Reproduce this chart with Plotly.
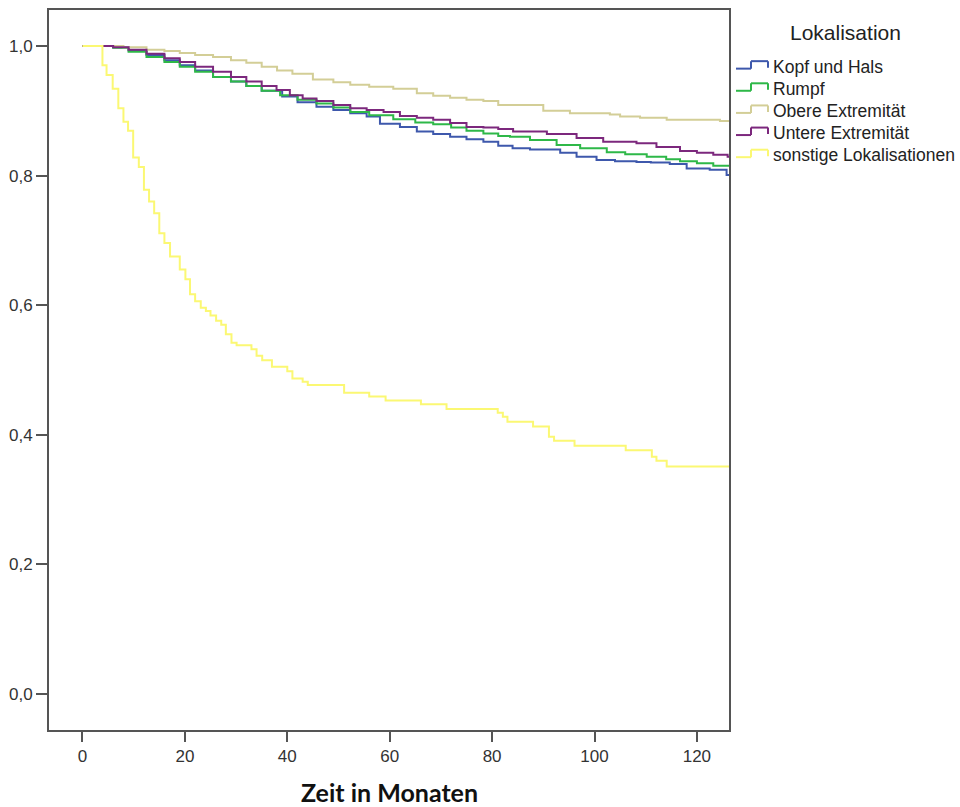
import plotly.graph_objects as go

# Kaplan-Meier survival by tumour localisation (months, cumulative survival)
series_names = ["Kopf und Hals", "Rumpf", "Obere Extremität",
                "Untere Extremität", "sonstige Lokalisationen"]
series_colors = ["#3E58AC", "#2EB848", "#D3CE97", "#7C287D", "#FBF873"]

kopf_t = [0, 4, 6, 9, 12.5, 16, 19, 22, 25.5, 29, 32, 35, 39, 42, 45.7, 49, 52.3,
          55.5, 58.1, 62, 65.3, 68.5, 71.8, 75, 78.3, 81.2, 84, 87.4, 93.3, 96.5,
          100.4, 104, 108.2, 111, 114.7, 118, 122.5, 125.8, 130]
kopf_s = [1.0, 1.0, 0.998, 0.993, 0.986, 0.978, 0.970, 0.962, 0.952, 0.945, 0.938,
          0.931, 0.922, 0.913, 0.906, 0.901, 0.896, 0.891, 0.880, 0.875, 0.868,
          0.864, 0.860, 0.856, 0.852, 0.846, 0.842, 0.840, 0.835, 0.829, 0.824,
          0.822, 0.821, 0.820, 0.818, 0.811, 0.809, 0.801, 0.801]

rumpf_t = [0, 4, 6, 9, 12.5, 16, 19, 22, 25.5, 29, 32, 35, 38.6, 42, 45.7, 49, 52.3,
           56, 60.7, 65, 68.5, 72, 75, 78.3, 81.2, 83.5, 87.4, 92.6, 97.2, 102.4,
           106, 110.2, 114, 116.7, 120, 123.2, 126.5, 130]
rumpf_s = [1.0, 1.0, 0.997, 0.991, 0.983, 0.975, 0.968, 0.960, 0.952, 0.945, 0.938,
           0.931, 0.924, 0.917, 0.911, 0.905, 0.898, 0.893, 0.887, 0.882, 0.879,
           0.874, 0.869, 0.865, 0.861, 0.860, 0.855, 0.847, 0.842, 0.836, 0.833,
           0.829, 0.825, 0.822, 0.819, 0.815, 0.813, 0.813]

obere_t = [0, 5, 8, 12.5, 16, 19, 22, 25.5, 29, 32, 35, 38, 41, 45, 49, 52.3, 56,
           60.7, 65.3, 68.5, 71.8, 75, 78.3, 81.2, 90, 95.2, 103, 105, 108.9, 114.1,
           124.5, 130]
obere_s = [1.0, 1.0, 0.998, 0.994, 0.992, 0.989, 0.986, 0.983, 0.978, 0.974, 0.968,
           0.962, 0.957, 0.948, 0.944, 0.940, 0.937, 0.934, 0.927, 0.923, 0.920,
           0.917, 0.915, 0.909, 0.900, 0.896, 0.894, 0.891, 0.889, 0.886, 0.884,
           0.884]

untere_t = [0, 4, 6, 9, 12.5, 16, 19, 22, 25.5, 29, 32, 35, 37.9, 40.5, 43, 45.7, 49,
            52.3, 55.5, 58.8, 62, 65.3, 68.5, 71.8, 75, 78.3, 81.2, 84.1, 90.7, 96.5,
            101.7, 108.2, 112.1, 116.7, 120, 123.2, 126, 130]
untere_s = [1.0, 1.0, 0.998, 0.994, 0.988, 0.981, 0.975, 0.968, 0.960, 0.952, 0.945,
            0.938, 0.932, 0.924, 0.919, 0.915, 0.909, 0.904, 0.901, 0.898, 0.892,
            0.889, 0.886, 0.881, 0.875, 0.874, 0.872, 0.868, 0.864, 0.858, 0.852,
            0.850, 0.844, 0.838, 0.835, 0.832, 0.829, 0.829]

sonst_t = [0, 3.9, 4.7, 5.9, 7.0, 8.0, 8.9, 9.9, 11.0, 12.0, 13.0, 14.0, 15.0, 16.0,
           17.1, 19.0, 20.1, 21.0, 22.0, 23.1, 24.1, 25.0, 26.1, 27.1, 28.0, 29.1,
           30.1, 33.0, 34.0, 35.1, 37.0, 40.0, 41.0, 43.0, 44.0, 51.1, 56.0, 59.2,
           66.1, 71.1, 81.1, 82.1, 83.0, 88.0, 91.1, 92.1, 96.1, 106.1, 111.2, 112.1,
           114.1, 130]
sonst_s = [1.0, 0.970, 0.955, 0.934, 0.904, 0.883, 0.869, 0.828, 0.813, 0.778, 0.760,
           0.742, 0.711, 0.696, 0.675, 0.655, 0.640, 0.617, 0.606, 0.596, 0.591,
           0.584, 0.576, 0.570, 0.555, 0.542, 0.538, 0.532, 0.522, 0.515, 0.505,
           0.498, 0.487, 0.482, 0.477, 0.465, 0.459, 0.453, 0.447, 0.440, 0.434,
           0.428, 0.420, 0.413, 0.397, 0.391, 0.383, 0.376, 0.366, 0.360, 0.351,
           0.351]

x_ticks = [0, 20, 40, 60, 80, 100, 120]
y_ticks = [0.0, 0.2, 0.4, 0.6, 0.8, 1.0]
y_tick_labels = ["0,0", "0,2", "0,4", "0,6", "0,8", "1,0"]

times = [kopf_t, rumpf_t, obere_t, untere_t, sonst_t]
survival = [kopf_s, rumpf_s, obere_s, untere_s, sonst_s]

W, H = 960, 807
ML, MR, MT, MB = 49, 231, 8, 77
PW, PH = W - ML - MR, H - MT - MB


def px(x):
    return (x - ML) / PW


def py(y):
    return (MT + PH - y) / PH


fig = go.Figure()
for name, color, t, s in zip(series_names, series_colors, times, survival):
    fig.add_trace(go.Scatter(
        x=t, y=s, mode="lines", name=name,
        line=dict(color=color, width=2, shape="hv"),
        showlegend=False, hoverinfo="skip",
    ))

axis_color = "#555555"
tick_font = dict(family="Liberation Sans, Arial, sans-serif", size=17, color="#333333")

fig.update_xaxes(
    range=[-6.54, 126.27], tickvals=x_ticks, ticktext=[str(v) for v in x_ticks],
    showgrid=False, zeroline=False, showline=True, linecolor=axis_color,
    linewidth=2, mirror=True, ticks="outside", ticklen=10, tickwidth=2,
    tickcolor=axis_color, tickfont=tick_font,
)
fig.update_yaxes(
    range=[-0.0554, 1.0554], tickvals=y_ticks, ticktext=y_tick_labels,
    showgrid=False, zeroline=False, showline=True, linecolor=axis_color,
    linewidth=2, mirror=True, ticks="outside", ticklen=11, tickwidth=2,
    tickcolor=axis_color, tickfont=tick_font,
)

# Hand-built legend with step-shaped keys
shapes = []
annotations = []
annotations.append(dict(
    text="Lokalisation", xref="paper", yref="paper", x=px(845), y=py(31),
    xanchor="center", yanchor="middle", showarrow=False,
    font=dict(family="Liberation Sans, Arial, sans-serif", size=21, color="#222222"),
))
for i, (name, color) in enumerate(zip(series_names, series_colors)):
    yc = 64.8 + 22.2 * i
    low, high = yc + 2, yc - 5.5
    key = [(736, low), (751, low), (751, high), (768, high), (768, low - 1)]
    for (x0, y0), (x1, y1) in zip(key[:-1], key[1:]):
        shapes.append(dict(
            type="line", xref="paper", yref="paper",
            x0=px(x0), y0=py(y0), x1=px(x1), y1=py(y1),
            line=dict(color=color, width=2),
        ))
    annotations.append(dict(
        text=name, xref="paper", yref="paper", x=px(771), y=py(yc),
        xanchor="left", yanchor="middle", showarrow=False,
        font=dict(family="Liberation Sans, Arial, sans-serif", size=17.5, color="#222222"),
    ))

annotations.append(dict(
    text="<b>Zeit in Monaten</b>", xref="paper", yref="paper", x=0.5, y=py(792),
    xanchor="center", yanchor="middle", showarrow=False,
    font=dict(family="Lato, Open Sans, sans-serif", size=25, color="#111111"),
))

fig.update_layout(
    width=W, height=H,
    margin=dict(l=ML, r=MR, t=MT, b=MB, pad=0),
    plot_bgcolor="white", paper_bgcolor="white",
    shapes=shapes, annotations=annotations,
    showlegend=False,
)

fig.write_html("out.html")
